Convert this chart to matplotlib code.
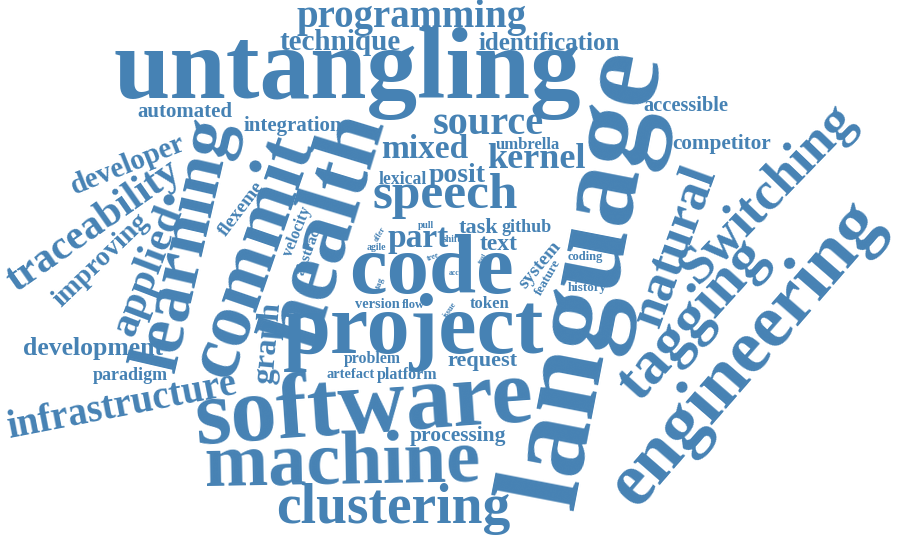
import matplotlib
matplotlib.use('Agg')
import matplotlib.pyplot as plt

words = ['untangling', 'language', 'software', 'project', 'code', 'health',
         'engineering', 'machine', 'commit', 'learning', 'tagging', 'Switching',
         'clustering', 'natural', 'speech', 'infrastructure', 'traceability',
         'applied', 'source', 'programming', 'kernel', 'mixed', 'part', 'graph',
         'developer', 'technique', 'improving', 'posit', 'identification',
         'development', 'text', 'request', 'task', 'processing', 'competitor',
         'automated', 'integration', 'accessible', 'flexeme', 'system', 'paradigm',
         'github', 'lexical', 'umbrella', 'token', 'velocity', 'platform', 'problem',
         'abstract', 'version', 'artefact', 'history', 'feature', 'coding', 'flow',
         'pull', 'agile', 'shift', 'tag', 'issue', 'offer', 'tree', 'acc', 'tool']
weights = [73, 87, 67, 62, 61, 65,
           54.5, 55, 56, 52, 44, 39,
           40, 38, 37, 27.8, 30,
           31, 29, 28, 26, 24, 24, 23,
           21, 21, 20, 20, 18,
           18.5, 17, 16, 16, 15.5, 15.3,
           15, 15, 14.7, 14, 14, 13,
           13, 12.7, 12, 12, 11.5, 11.5, 11.4,
           11, 10.4, 10.4, 9.4, 9.4, 9, 9,
           7, 7, 7, 6.5, 6, 5.5, 5.5, 5.5, 5]

# Disposición de la nube (centro en px, ángulo en grados)
layout_x = [347, 588, 364, 414, 432, 327,
            747, 342, 253, 186, 693, 767,
            393, 674, 445, 122, 94,
            148, 488, 412, 536, 425, 418, 268,
            128, 340, 101, 457, 549,
            93, 499, 483, 478, 458, 722,
            185, 293, 686, 241, 540, 130,
            527, 403, 528, 490, 297, 407, 372,
            309, 377, 351, 587, 548, 585, 413,
            426, 376, 452, 380, 450, 380, 433, 454, 482]
layout_y = [73, 278, 410, 332, 273, 229,
            354, 465, 256, 244, 320, 194,
            509, 246, 196, 406, 226,
            271, 124, 18, 160, 150, 239, 343,
            165, 43, 260, 176, 43,
            349, 245, 361, 228, 436, 144,
            112, 126, 106, 209, 265, 375,
            228, 179, 145, 304, 232, 375, 359,
            250, 305, 374, 288, 277, 257, 305,
            226, 247, 240, 283, 310, 234, 257, 273, 258]
angles = [0, 79, 4, 0, 0, 73,
          49, 1, 71, 77, 48, 46,
          0, 70, 0, 11, 35,
          69, 0, 0, 0, 0, 0, 85,
          22, 0, 44, 0, 0,
          0, 0, 0, 0, 0, 0,
          0, 0, 0, 53, 50, 0,
          0, 0, 0, 0, 68, 0, 0,
          70, 0, 0, 0, 60, 0, 0,
          0, 0, 0, 70, 55, 60, 20, 0, 60]

COLOR = '#4682B4'

fig = plt.figure(figsize=(9, 5.38), dpi=100)
ax = fig.add_axes([0, 0, 1, 1])
ax.set_xlim(0, 900)
ax.set_ylim(538, 0)
ax.axis('off')

for w, s, x, y, a in zip(words, weights, layout_x, layout_y, angles):
    ax.text(x, y, w, fontsize=s, rotation=a, rotation_mode='anchor',
            ha='center', va='center', color=COLOR,
            family='Liberation Serif', fontweight='bold')

fig.savefig('out.png', dpi=100, facecolor='white')
